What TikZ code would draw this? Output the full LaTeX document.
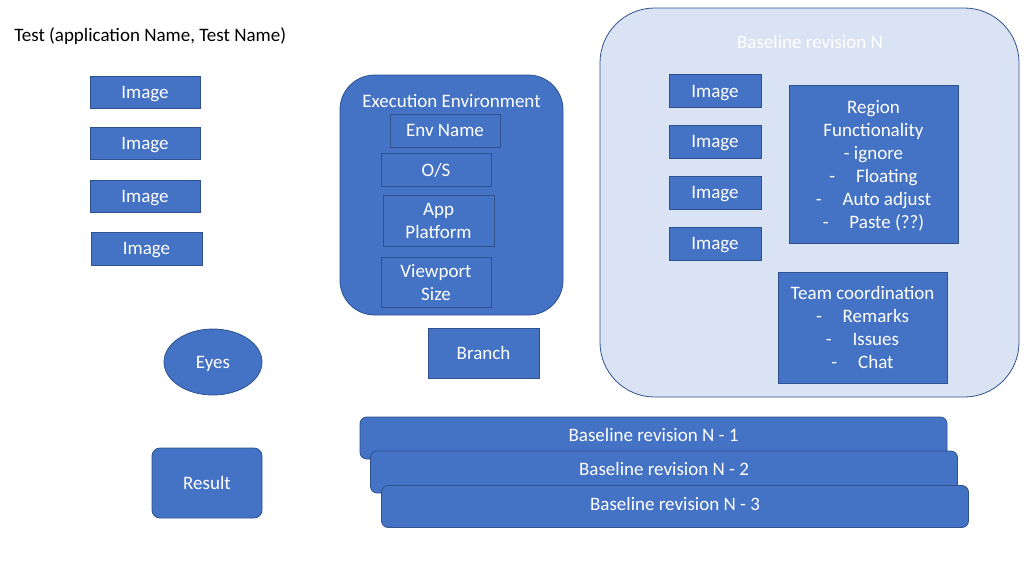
\documentclass[tikz,border=0pt]{standalone}
\usepackage{fontspec}
\setmainfont{Carlito}
\usetikzlibrary{shapes.geometric}

\definecolor{boxblue}{HTML}{4472C4}
\definecolor{boxline}{HTML}{2F528F}
\definecolor{paleblue}{HTML}{DAE3F3}

\begin{document}
\begin{tikzpicture}[x=0.75pt, y=-0.75pt,
    every node/.style={font=\fontsize{14.25pt}{17.25pt}\selectfont},
    bluebox/.style={draw=boxline, line width=0.6pt, fill=boxblue, text=white,
      inner sep=0pt, align=center, text depth=0pt},
    imgbox/.style={bluebox, minimum width=82.5pt, minimum height=24pt},
    smallimg/.style={bluebox, minimum width=69pt, minimum height=24.75pt},
    revbox/.style={bluebox, rounded corners=5pt, minimum width=440.25pt, minimum height=31.5pt,
      text height=10pt, text depth=4.6pt}]

  \useasboundingbox (0,0) rectangle (1024,576);

  \def \dash {-\hspace{1.1em}}

  \node[anchor=west, inner sep=0pt] (title) at (14,36) {Test (application Name, Test Name)};

  % images of the test
  \foreach \y [count=\i] in {92,143,196}
    \node[imgbox] (img\i) at (145,\y) {Image};
  \node[imgbox, minimum width=83.25pt, minimum height=24.75pt] (img4) at (146.5,248.5) {Image};

  \node[bluebox, ellipse, minimum width=73.5pt, minimum height=49.5pt] (eyes) at (213,362) {Eyes};
  \node[bluebox, rounded corners=6pt, minimum width=82.5pt, minimum height=52.5pt] (result) at (207,483) {Result};

  % execution environment
  \node[bluebox, rounded corners=26pt, minimum width=167.25pt, minimum height=180pt] (env) at (451.5,195) {};
  \node (envtitle) at (451.5,101) [text=white] {Execution Environment};
  \node[bluebox, minimum width=82.5pt, minimum height=24.75pt] (envname) at (445,130.5) {Env Name};
  \node[bluebox, minimum width=82.5pt, minimum height=24.75pt] (os) at (436,169.5) {O/S};
  \node[bluebox, minimum width=83.25pt, minimum height=38.25pt] (platform) at (438.5,220.5) {App\\Platform};
  \node[bluebox, minimum width=82.5pt, minimum height=37.5pt] (viewport) at (436,282) {Viewport\\Size};

  \node[bluebox, minimum width=83.25pt, minimum height=37.5pt] (branch) at (483.5,353) {Branch};

  % baseline revision N
  \node[draw=boxline, line width=0.6pt, fill=paleblue, rounded corners=41pt,
    minimum width=314.25pt, minimum height=291.75pt] (baseline) at (809.5,202.5) {};
  \node[text=white] (basetitle) at (810,42) {Baseline revision N};
  \foreach \y [count=\i] in {91,141.5,192.5,243.5}
    \node[smallimg] (bimg\i) at (715,\y) {Image};
  \node[bluebox, minimum width=126.75pt, minimum height=118.5pt] (region) at (873.5,164)
    {Region\\Functionality\\- ignore\\\dash Floating\\\dash Auto adjust\\\dash Paste (??)};
  \node[bluebox, minimum width=126.75pt, minimum height=83.25pt] (team) at (862.5,327.5)
    {Team coordination\\\dash Remarks\\\dash Issues\\\dash Chat};

  % older revisions
  \foreach \x/\y/\n in {653.5/438/1, 664/472/2, 675/506.5/3}
    \node[revbox] (rev\n) at (\x,\y) {Baseline revision N - \n};

\end{tikzpicture}
\end{document}
